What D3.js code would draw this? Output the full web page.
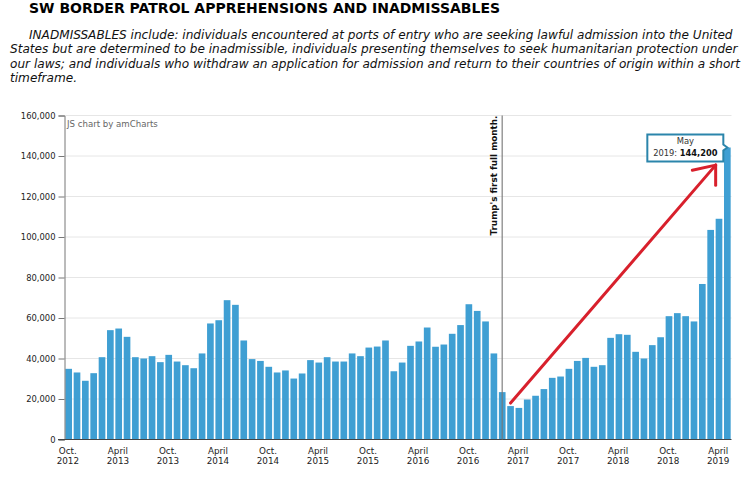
<!DOCTYPE html>
<html><head><meta charset="utf-8">
<script src="https://cdn.jsdelivr.net/npm/d3@7"></script>
<style>html,body{margin:0;padding:0;background:#fff}svg{display:block}text{font-family:"DejaVu Sans",sans-serif}</style>
</head><body><svg id="c" width="750" height="482"></svg>
<script>
const title = "SW BORDER PATROL APPREHENSIONS AND INADMISSABLES";
const noteLines = [
 "INADMISSABLES include: individuals encountered at ports of entry who are seeking lawful admission into the United",
 "States but are determined to be inadmissible, individuals presenting themselves to seek humanitarian protection under",
 "our laws; and individuals who withdraw an application for admission and return to their countries of origin within a short",
 "timeframe."
];
const monthNames = ["Oct.","Nov.","Dec.","Jan.","Feb.","March","April","May","June","July","Aug.","Sept."];
const values = [
 34900,33100,29000,32750,40650,54000,54800,50700,40650,40000,41150,38200,
 41800,38500,36700,35200,42500,57300,58900,68800,66500,48900,39700,38800,
 35900,33100,34100,30100,32600,39200,38000,40650,38500,38500,42500,41150,
 45400,45900,48900,33700,38000,46250,48400,55300,45800,46900,52200,56500,
 66800,63500,58300,42500,23400,16500,15600,19750,21600,24900,30450,31100,
 34900,38800,40300,35900,36700,50200,52000,51700,43300,40000,46600,50500,
 60900,62400,60900,58300,76800,103500,109000,144200
];
const yTicks = [0,20000,40000,60000,80000,100000,120000,140000,160000];
const xTickEvery = 6;
const startYear = 2012;
const trumpIndex = 52;
const arrowFrom = {i:53, v:18000};
const arrowTip = {i:77.6, v:135500};
const arrowBarbs = [{i:74.8, v:133000},{i:77.6, v:125500}];

const svg = d3.select("#c");
const x = d3.scaleBand().domain(d3.range(values.length)).range([64.5,731.5]).paddingInner(0.2).paddingOuter(0.1);
const y = d3.scaleLinear().domain([0,160000]).range([439.5,115.5]);
const cx = i => x(0) + x.bandwidth()/2 + i*x.step();
const labelOf = i => [monthNames[i%12], startYear + Math.floor((i+9)/12)];

svg.append("text").text(title).attr("x",29).attr("y",12.5).attr("font-size",14).attr("font-weight",700).attr("fill","#000");
svg.selectAll("text.note").data(noteLines).join("text").attr("class","note")
 .text(d=>d).attr("x",(d,i)=>i?10:29).attr("y",(d,i)=>39+i*14.3)
 .attr("font-size",12.1).attr("font-style","italic").attr("fill","#111");

svg.append("g").selectAll("line").data(yTicks.slice(1)).join("line")
 .attr("x1",64.5).attr("x2",731.5).attr("y1",d=>y(d)).attr("y2",d=>y(d)).attr("stroke","#e6e6e6");

svg.append("g").selectAll("rect").data(values).join("rect")
 .attr("x",(d,i)=>x(i)).attr("width",x.bandwidth()).attr("y",d=>y(d)).attr("height",d=>y(0)-y(d)).attr("fill","#3f9fd3");

const ya = d3.axisLeft(y).tickValues(yTicks).tickFormat(d3.format(",")).tickSize(6).tickPadding(3);
const gy = svg.append("g").attr("transform","translate(64.5,0)").call(ya);
gy.selectAll("text").attr("font-size",8.4).attr("fill","#222").style("font-family",'"DejaVu Sans",sans-serif');
gy.selectAll("line,path").attr("stroke","#777");

svg.append("line").attr("x1",58).attr("x2",731.5).attr("y1",y(0)).attr("y2",y(0)).attr("stroke","#444").attr("stroke-width",1);

const tickIdx = d3.range(0,values.length,xTickEvery);
const gx = svg.append("g").selectAll("text").data(tickIdx).join("text")
 .attr("text-anchor","middle").attr("font-size",8.8).attr("fill","#222");
gx.append("tspan").attr("x",d=>cx(d)-0.8).attr("y",y(0)+14).text(d=>labelOf(d)[0]);
gx.append("tspan").attr("x",d=>cx(d)-0.8).attr("y",y(0)+24).text(d=>labelOf(d)[1]);

svg.append("text").text("JS chart by amCharts").attr("x",67).attr("y",127).attr("font-size",8.6).attr("fill","#666");

svg.append("line").attr("x1",cx(trumpIndex)).attr("x2",cx(trumpIndex)).attr("y1",y(160000)).attr("y2",y(0))
 .attr("stroke","#777").attr("stroke-opacity",.75).attr("stroke-width",1.5);
svg.append("text").text("Trump's first full month.")
 .attr("transform",`translate(${cx(trumpIndex)-5},${y(160000)+120}) rotate(-90)`)
 .attr("font-size",8.8).attr("font-weight",700).attr("fill","#111");

const arrow = svg.append("g").attr("stroke","#d8202c").attr("stroke-width",3).attr("fill","none").attr("stroke-linecap","round");
arrow.append("line").attr("x1",cx(arrowFrom.i)).attr("y1",y(arrowFrom.v)).attr("x2",cx(arrowTip.i)).attr("y2",y(arrowTip.v));
arrow.selectAll("line.b").data(arrowBarbs).join("line").attr("class","b")
 .attr("x1",d=>cx(d.i)).attr("y1",d=>y(d.v)).attr("x2",cx(arrowTip.i)).attr("y2",y(arrowTip.v));

const last = values.length-1, tx = cx(last), ty = y(values[last]);
const box = svg.append("g");
box.append("path")
 .attr("d",`M${tx-80},${ty-13}H${tx-4}V${ty-3}L${tx},${ty}L${tx-4},${ty+3}V${ty+14}H${tx-80}Z`)
 .attr("fill","#fff").attr("stroke","#2b85ab").attr("stroke-width",2);
box.append("text").text("May").attr("x",tx-42).attr("y",ty-3).attr("text-anchor","middle").attr("font-size",8.4).attr("fill","#333");
const t2 = box.append("text").attr("x",tx-42).attr("y",ty+9).attr("text-anchor","middle").attr("font-size",8.3).attr("fill","#333");
t2.append("tspan").text("2019: ");
t2.append("tspan").attr("font-weight",700).attr("fill","#111").text(d3.format(",")(values[last]));
</script></body></html>
